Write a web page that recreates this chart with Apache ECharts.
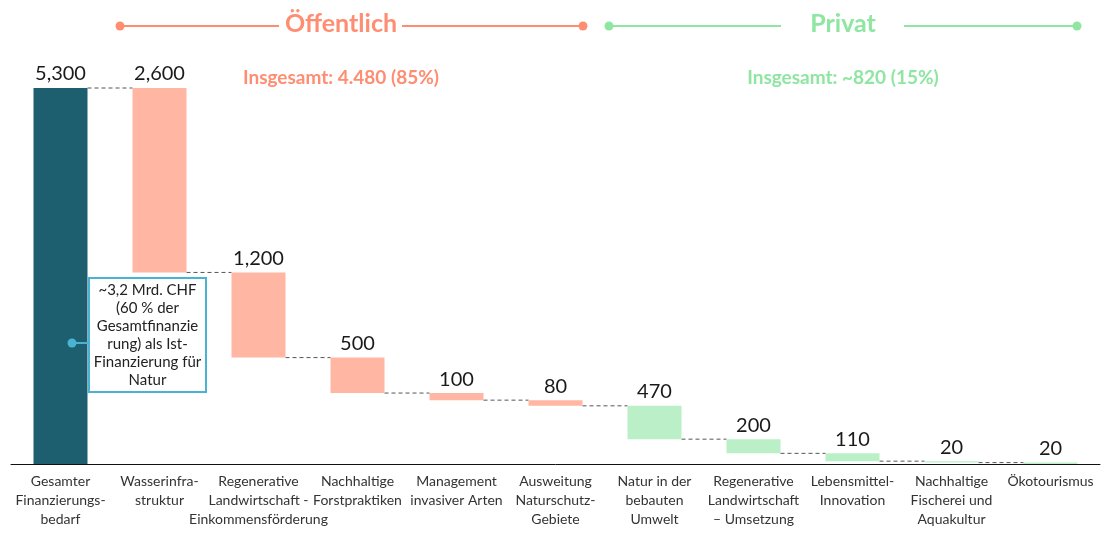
<!DOCTYPE html>
<html>
<head>
<meta charset="utf-8">
<script src="https://cdn.jsdelivr.net/npm/echarts@6/dist/echarts.min.js"></script>
<style>
html,body{margin:0;padding:0;background:#fff;}
#chart{width:1106px;height:534px;}
</style>
</head>
<body>
<div id="chart"></div>
<script>
const categories = [
  "Gesamter\nFinanzierungs-\nbedarf",
  "Wasserinfra-\nstruktur",
  "Regenerative\nLandwirtschaft -\nEinkommensförderung",
  "Nachhaltige\nForstpraktiken",
  "Management\ninvasiver Arten",
  "Ausweitung\nNaturschutz-\nGebiete",
  "Natur in der\nbebauten\nUmwelt",
  "Regenerative\nLandwirtschaft\n– Umsetzung",
  "Lebensmittel-\nInnovation",
  "Nachhaltige\nFischerei und\nAquakultur",
  "Ökotourismus"
];
const values = [5300, 2600, 1200, 500, 100, 80, 470, 200, 110, 20, 20];
const valueLabels = ["5,300", "2,600", "1,200", "500", "100", "80", "470", "200", "110", "20", "20"];
const groups = ["total", "public", "public", "public", "public", "public", "private", "private", "private", "private", "private"];
const headerTexts = ["Öffentlich", "Privat"];
const totalTexts = ["Insgesamt: 4.480 (85%)", "Insgesamt: ~820 (15%)"];
const noteLines = ["~3,2 Mrd. CHF", "(60 % der", "Gesamtfinanzie", "rung) als Ist-", "Finanzierung für", "Natur"];

const colors = { total: "#1d5f6f", public: "#ffb6a2", private: "#baefc7" };
const pubHead = "#ff8d72", privHead = "#8fe6a2";

// waterfall bases
const bases = [];
let remaining = values[0];
bases.push(0);
for (let i = 1; i < values.length; i++) {
  remaining -= values[i];
  bases.push(remaining);
}
const tops = values.map((v, i) => bases[i] + v);

const FONT = "Lato";
const chart = echarts.init(document.getElementById("chart"));

const option = {
  animation: false,
  grid: { left: 11, right: 6, top: 88, bottom: 70 },
  xAxis: {
    type: "category",
    data: categories,
    axisLine: { lineStyle: { color: "#111", width: 1 } },
    axisTick: { show: false },
    axisLabel: { interval: 0, color: "#333", fontSize: 14, lineHeight: 19, margin: 8, fontFamily: FONT }
  },
  yAxis: { type: "value", min: 0, max: 5300, show: false, splitLine: { show: false } },
  series: [
    {
      type: "bar", stack: "w", barWidth: 54,
      itemStyle: { color: "transparent" },
      data: bases, silent: true
    },
    {
      type: "bar", stack: "w", barWidth: 54,
      data: values.map((v, i) => ({ value: v, itemStyle: { color: colors[groups[i]] } })),
      label: {
        show: true, position: "top", distance: 4,
        formatter: p => valueLabels[p.dataIndex],
        color: "#1a1a1a", fontSize: 20, fontFamily: FONT
      }
    },
    {
      type: "custom",
      data: values.slice(0, -1).map((v, i) => [i, tops[i + 1]]),
      renderItem: function (params, api) {
        const i = api.value(0);
        const lvl = api.value(1);
        const p1 = api.coord([i, lvl]);
        const p2 = api.coord([i + 1, lvl]);
        const hw = 27;
        return {
          type: "line",
          shape: { x1: p1[0] + hw, y1: p1[1], x2: p2[0] - hw, y2: p2[1] },
          style: { stroke: "#555", lineWidth: 1, lineDash: [4, 3] }
        };
      },
      z: 1
    }
  ]
};
chart.setOption(option);

function headerGroup(x1, x2, lEnd, rStart, tx, label, color) {
  const y = 26;
  return [
    { type: "line", shape: { x1: x1, y1: y, x2: lEnd, y2: y }, style: { stroke: color, lineWidth: 2 } },
    { type: "line", shape: { x1: rStart, y1: y, x2: x2, y2: y }, style: { stroke: color, lineWidth: 2 } },
    { type: "circle", shape: { cx: x1, cy: y, r: 4.5 }, style: { fill: color } },
    { type: "circle", shape: { cx: x2, cy: y, r: 4.5 }, style: { fill: color } },
    { type: "text", x: tx, y: y - 2, style: { text: label, fill: color, font: "bold 25px " + FONT, align: "center", verticalAlign: "middle" } }
  ];
}

const graphics = []
  .concat(headerGroup(120, 583, 279, 402, 341, headerTexts[0], pubHead))
  .concat(headerGroup(609, 1077, 781, 904, 843, headerTexts[1], privHead))
  .concat([
    { type: "text", x: 341, y: 78, style: { text: totalTexts[0], fill: pubHead, font: "bold 19px " + FONT, align: "center", verticalAlign: "middle" } },
    { type: "text", x: 843, y: 78, style: { text: totalTexts[1], fill: privHead, font: "bold 19px " + FONT, align: "center", verticalAlign: "middle" } },
    { type: "line", shape: { x1: 72, y1: 343, x2: 89, y2: 343 }, style: { stroke: "#4ab3d4", lineWidth: 2 }, z: 10 },
    { type: "circle", shape: { cx: 72, cy: 343, r: 4.5 }, style: { fill: "#4ab3d4" }, z: 10 },
    { type: "rect", shape: { x: 89, y: 278, width: 117, height: 114 }, style: { fill: "#fff", stroke: "#4ab3d4", lineWidth: 2 }, z: 10 },
    { type: "text", x: 147.5, y: 335, z: 11, style: { text: noteLines.join("\n"), fill: "#222", font: "15px " + FONT, lineHeight: 18, align: "center", verticalAlign: "middle" } }
  ]);
chart.setOption({ graphic: graphics });
</script>
</body>
</html>
